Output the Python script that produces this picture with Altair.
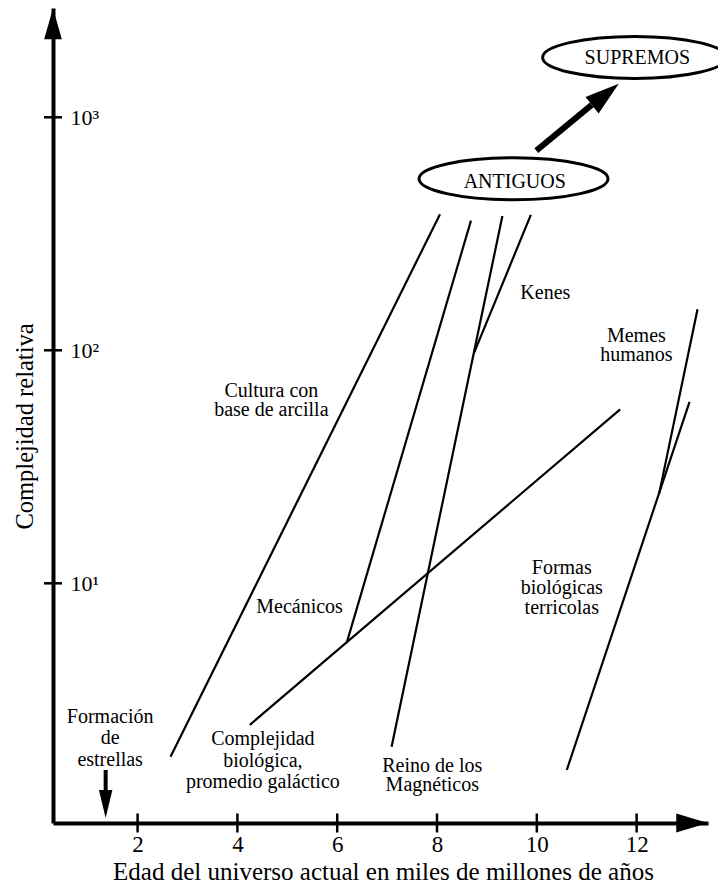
import altair as alt
import pandas as pd

FONT = "Liberation Serif"

# ---- axes ----
x_domain = [0.305, 13.43]
y_domain = [0.936, 2945]
x_ticks = [2, 4, 6, 8, 10, 12]
y_ticks = [10, 100, 1000]

# ---- growth lines (start -> end) ----
line_names = ["Cultura con base de arcilla", "Complejidad biológica", "Mecánicos",
              "Reino de los Magnéticos", "Kenes", "Formas biológicas terricolas",
              "Memes humanos"]
line_x0 = [2.66, 4.25, 6.19, 7.09, 8.74, 10.60, 12.45]
line_y0 = [1.80, 2.47, 5.55, 1.99, 97.3, 1.58, 24.2]
line_x1 = [8.06, 11.67, 8.68, 9.31, 9.88, 13.06, 13.22]
line_y1 = [384, 55.8, 360, 377, 381, 60.1, 150]

# ---- annotations ----
note_text = ["Cultura con\nbase de arcilla", "Mecánicos", "Reino de los\nMagnéticos",
             "Kenes", "Memes\nhumanos", "Formas\nbiológicas\nterricolas"]
note_x = [4.68, 5.245, 7.905, 10.17, 11.995, 10.50]
note_y = [63.2, 7.48, 1.554, 166, 108.9, 10.93]

note2_text = ["Formación\nde\nestrellas", "Complejidad\nbiológica,\npromedio galáctico"]
note2_x = [1.45, 4.51]
note2_y = [2.52, 2.02]

# ---- ovals ----
oval_text = ["ANTIGUOS", "SUPREMOS"]
oval_text_x = [9.558, 12.015]
oval_text_y = [495.5, 1694]
oval_x = [9.533, 11.96]
oval_y = [544.6, 1806]

# ---- arrows ----
big_arrow_x0, big_arrow_y0 = [9.99], [719]
big_arrow_x1, big_arrow_y1 = [11.10], [1130]
big_head_x, big_head_y = [11.374], [1253]

star_x = [1.36]
star_y0, star_y1 = [1.58], [1.234]
star_head_y = [1.129]

yaxis_head_y = [2519]
xaxis_head_x = [13.11]

xs = alt.Scale(domain=x_domain, nice=False, zero=False)
ys = alt.Scale(type="log", domain=y_domain, nice=False)

x_axis = alt.Axis(
    values=x_ticks, ticks=False, grid=False,
    domainColor="black", domainWidth=4,
    labelFont=FONT, labelFontSize=23, labelColor="black", labelPadding=10,
    labelFlush=False, labelOverlap=False,
    title="Edad del universo actual en miles de millones de años",
    titleFont=FONT, titleFontSize=25, titleFontWeight="normal", titleColor="black",
    titleX=330, titleY=56, titleBaseline="alphabetic", titleAlign="center")

y_axis = alt.Axis(
    values=y_ticks, ticks=False, grid=False,
    domainColor="black", domainWidth=4,
    labelExpr="datum.value == 10 ? '10¹' : datum.value == 100 ? '10²' : '10³'",
    labelFont=FONT, labelFontSize=22, labelColor="black",
    labelAlign="left", labelBaseline="middle", labelPadding=-17,
    labelFlush=False, labelOverlap=False,
    title="Complejidad relativa",
    titleFont=FONT, titleFontSize=24.5, titleFontWeight="normal", titleColor="black",
    titleAngle=270, titleX=-28, titleY=418, titleBaseline="middle", titleAlign="center")


def X(f="x"):
    return alt.X(f"{f}:Q", scale=xs, axis=x_axis)


def Y(f="y"):
    return alt.Y(f"{f}:Q", scale=ys, axis=y_axis)


seg_df = pd.DataFrame({"name": line_names, "x": line_x0, "y": line_y0,
                       "x2": line_x1, "y2": line_y1})

lines = alt.Chart(seg_df).mark_rule(color="black", strokeWidth=2.2).encode(
    x=X(), x2="x2:Q", y=Y(), y2="y2:Q")

# crossing tick marks
ytick_df = pd.DataFrame({"x": [x_domain[0]] * len(y_ticks), "y": y_ticks})
xtick_df = pd.DataFrame({"x": x_ticks, "y": [y_domain[0]] * len(x_ticks)})
yticks = alt.Chart(ytick_df).mark_tick(orient="horizontal", size=18, thickness=2.5,
                                       color="black", opacity=1).encode(x=X(), y=Y())
xticks = alt.Chart(xtick_df).mark_tick(orient="vertical", size=19, thickness=2.5,
                                       color="black", opacity=1).encode(x=X(), y=Y())

# axis arrowheads
yhead = alt.Chart(pd.DataFrame({"x": [x_domain[0]], "y": yaxis_head_y})).mark_point(
    shape="M0,-1L0.57,1L-0.57,1Z", size=961, filled=True, color="black", opacity=1
).encode(x=X(), y=Y())
xhead = alt.Chart(pd.DataFrame({"x": xaxis_head_x, "y": [y_domain[0]]})).mark_point(
    shape="M1,0L-1,0.6L-1,-0.6Z", size=1000, filled=True, color="black", opacity=1
).encode(x=X(), y=Y())

# star formation arrow
star_shaft = alt.Chart(pd.DataFrame({"x": star_x, "y": star_y0, "y2": star_y1})).mark_rule(
    color="black", strokeWidth=4).encode(x=X(), y=Y(), y2="y2:Q")
star_head = alt.Chart(pd.DataFrame({"x": star_x, "y": star_head_y})).mark_point(
    shape="M0,1L-0.48,-1L0.48,-1Z", size=784, filled=True, color="black", opacity=1
).encode(x=X(), y=Y())

# big arrow
big_shaft = alt.Chart(pd.DataFrame({"x": big_arrow_x0, "y": big_arrow_y0,
                                    "x2": big_arrow_x1, "y2": big_arrow_y1})).mark_rule(
    color="black", strokeWidth=6).encode(x=X(), y=Y(), x2="x2:Q", y2="y2:Q")
big_head = alt.Chart(pd.DataFrame({"x": big_head_x, "y": big_head_y})).mark_point(
    shape="M1,0L-1,0.61L-1,-0.61Z", size=1176, angle=321.1, filled=True,
    color="black", opacity=1
).encode(x=X(), y=Y())

# ovals
oval1 = alt.Chart(pd.DataFrame({"x": oval_x[:1], "y": oval_y[:1]})).mark_point(
    shape="M-1,0A1,0.222 0 1,0 1,0A1,0.222 0 1,0 -1,0Z", size=35721,
    filled=True, fill="white", stroke="black", strokeWidth=3, opacity=1
).encode(x=X(), y=Y())
oval2 = alt.Chart(pd.DataFrame({"x": oval_x[1:], "y": oval_y[1:]})).mark_point(
    shape="M-1,0A1,0.228 0 1,0 1,0A1,0.228 0 1,0 -1,0Z", size=33856,
    filled=True, fill="white", stroke="black", strokeWidth=3, opacity=1
).encode(x=X(), y=Y())

oval_labels = alt.Chart(pd.DataFrame({"t": oval_text, "x": oval_text_x, "y": oval_text_y})).mark_text(
    font=FONT, fontSize=20, color="black", align="center", baseline="alphabetic"
).encode(x=X(), y=Y(), text="t:N")

notes = alt.Chart(pd.DataFrame({"t": note_text, "x": note_x, "y": note_y})).mark_text(
    font=FONT, fontSize=20, color="black", align="center", baseline="alphabetic",
    lineBreak="\n", lineHeight=19.7
).encode(x=X(), y=Y(), text="t:N")

notes2 = alt.Chart(pd.DataFrame({"t": note2_text, "x": note2_x, "y": note2_y})).mark_text(
    font=FONT, fontSize=20, color="black", align="center", baseline="alphabetic",
    lineBreak="\n", lineHeight=21.5
).encode(x=X(), y=Y(), text="t:N")

chart = alt.layer(
    lines, yticks, xticks, yhead, xhead, star_shaft, star_head,
    big_shaft, big_head, oval1, oval2, oval_labels, notes, notes2
).properties(
    width=655, height=815,
    padding={"left": 45, "top": 0, "right": 10, "bottom": 60},
    autosize=alt.AutoSizeParams(type="none"),
    background="white",
).configure_view(stroke=None)

chart.save("out.html", embed_options={"renderer": "svg", "actions": False})
